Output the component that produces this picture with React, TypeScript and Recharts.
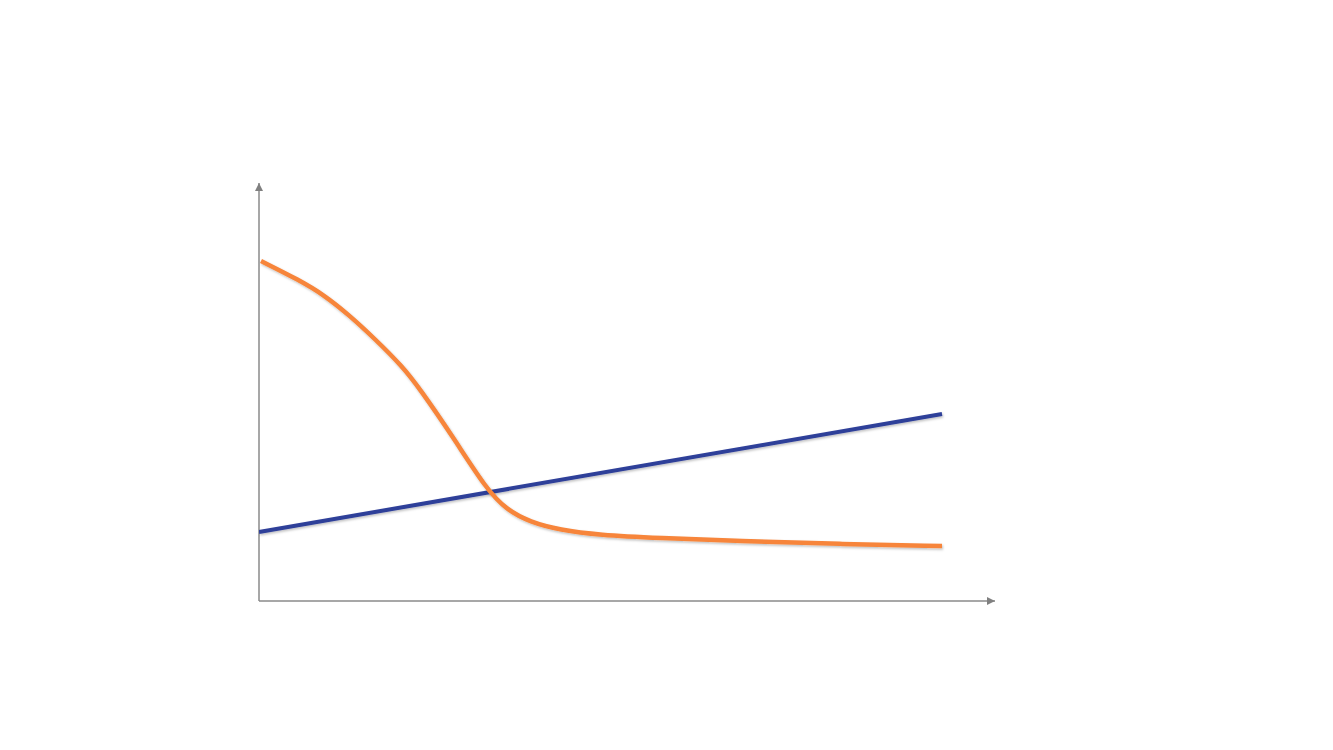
import React from "react";
import { LineChart, Line, XAxis, YAxis, ReferenceLine } from "recharts";

// Values in chart units (x: 0..736, y: 0..418)
const orangeX = [2, 40, 65, 90, 116, 143, 161, 194, 228, 248, 271, 301, 340, 400, 480, 580, 683];
const orangeY = [340, 321, 306, 286, 262, 235, 212, 164, 111, 91, 79, 71, 66, 63, 60, 57, 55];
const blueX = [0, 683];
const blueY = [69, 187];
const xDomain = [0, 736];
const yDomain = [0, 418];

const orangeData = orangeX.map((x, i) => ({ x, y: orangeY[i] }));
const blueData = blueX.map((x, i) => ({ x, y: blueY[i] }));

export default function App() {
  return (
    <div style={{ position: "absolute", left: 0, top: 0, width: 1333, height: 750, background: "#fff" }}>
      <LineChart width={1333} height={750} margin={{ left: 259, top: 183, right: 338, bottom: 149 }}>
        <defs>
          <marker id="arrow" viewBox="0 0 10 10" refX="10" refY="5" markerWidth="10" markerHeight="8" markerUnits="userSpaceOnUse" orient="auto-start-reverse">
            <path d="M0,0 L10,5 L0,10 z" fill="#808080" />
          </marker>
          <filter id="shadow" x="-5%" y="-5%" width="110%" height="110%">
            <feDropShadow dx="1" dy="1.5" stdDeviation="1" floodColor="#000" floodOpacity="0.25" />
          </filter>
        </defs>
        <XAxis type="number" dataKey="x" domain={xDomain} allowDataOverflow hide />
        <YAxis type="number" dataKey="y" domain={yDomain} allowDataOverflow hide />
        <ReferenceLine
          segment={[{ x: xDomain[0], y: yDomain[0] }, { x: xDomain[1], y: yDomain[0] }]}
          stroke="#8a8a8a"
          strokeWidth={1.5}
          markerEnd="url(#arrow)"
          ifOverflow="visible"
        />
        <ReferenceLine
          segment={[{ x: xDomain[0], y: yDomain[0] }, { x: xDomain[0], y: yDomain[1] }]}
          stroke="#8a8a8a"
          strokeWidth={1.5}
          markerEnd="url(#arrow)"
          ifOverflow="visible"
        />
        <Line
          data={blueData}
          dataKey="y"
          type="linear"
          stroke="#2F3F99"
          strokeWidth={4}
          dot={false}
          isAnimationActive={false}
          style={{ filter: "url(#shadow)" }}
        />
        <Line
          data={orangeData}
          dataKey="y"
          type="basis"
          stroke="#F7853A"
          strokeWidth={4.5}
          dot={false}
          isAnimationActive={false}
          style={{ filter: "url(#shadow)" }}
        />
      </LineChart>
    </div>
  );
}
